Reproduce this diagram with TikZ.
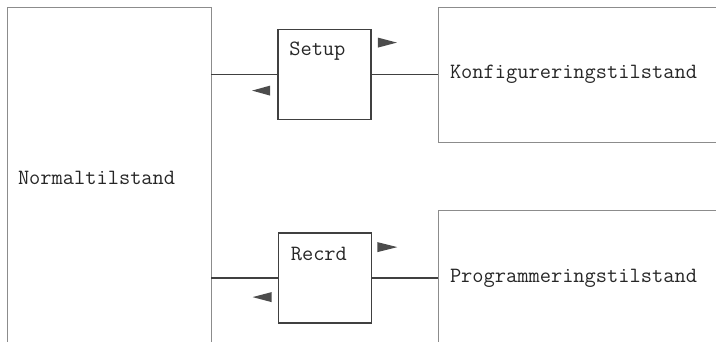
\documentclass[tikz,border=0pt]{standalone}
\usepackage{fontspec}
\usetikzlibrary{calc}

\begin{document}
\begin{tikzpicture}[x=1pt,y=-1pt,
        font=\ttfamily\fontsize{21.8}{24}\selectfont,text=black!85,
        state box/.style={rectangle,draw=black!45,line width=0.8pt,align=left,inner ysep=0pt},
        gate box/.style={rectangle,draw=black!75,line width=1.8pt,minimum width=93pt,minimum height=90pt},
        gate text/.style={anchor=west,inner sep=0pt},
        conn/.style={-,draw=black!75,line width=1.5pt},
        tip fill/.style={fill=black!70}]
    \useasboundingbox (0,0) rectangle (716,341);

    \node[state box,text width=182pt,inner xsep=11pt,minimum height=342pt] (normal) at (109,178) {Normaltilstand};
    \node[state box,text width=276pt,inner xsep=12pt,minimum height=135pt] (konfig) at (588,74.5) {Konfigureringstilstand};
    \node[state box,text width=276pt,inner xsep=12pt,minimum height=136pt] (prog) at (588,278) {Programmeringstilstand};

    \node[gate box] (setup) at (324.5,74.5) {};
    \node[gate box] (recrd) at (325,278) {};
    \node[gate text] (setuptxt) at ($(setup.north west)+(12,23)$) {Setup};
    \node[gate text] (recrdtxt) at ($(recrd.north west)+(13,22)$) {Recrd};

    \path[conn]
    (setup.west -| normal.east) edge (setup.west)
    (setup.east) edge (konfig.west)
    (recrd.west -| normal.east) edge (recrd.west)
    (recrd.east) edge (prog.west);

    \fill[tip fill] ($(setup.north east)+(6,9)$) -- ++(19,5) -- ++(-19,5) -- cycle;
    \fill[tip fill] ($(setup.north west)+(-7,57)$) -- ++(-18,5) -- ++(18,5) -- cycle;
    \fill[tip fill] ($(recrd.north east)+(5,10)$) -- ++(20,5) -- ++(-20,5) -- cycle;
    \fill[tip fill] ($(recrd.north west)+(-6,60)$) -- ++(-19,5) -- ++(19,5) -- cycle;

\end{tikzpicture}
\end{document}
